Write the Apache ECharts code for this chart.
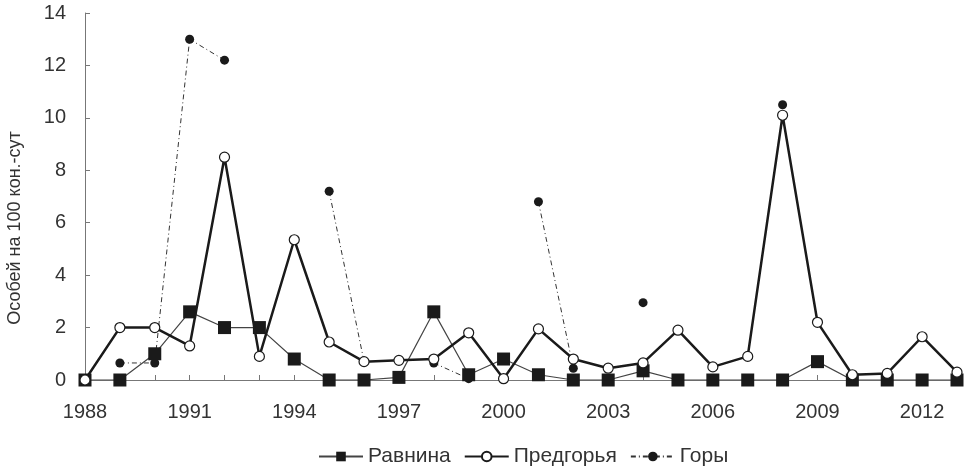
<!DOCTYPE html>
<html><head><meta charset="utf-8">
<script src="https://cdn.jsdelivr.net/npm/echarts@6/dist/echarts.min.js"></script>
<style>html,body{margin:0;padding:0;background:#fff}#c{width:965px;height:475px}</style>
</head><body><div id="c"></div>
<script>
const years = ['1988','1989','1990','1991','1992','1993','1994','1995','1996','1997','1998','1999','2000','2001','2002','2003','2004','2005','2006','2007','2008','2009','2010','2011','2012','2013'];
const ravnina = [0,0,1.0,2.6,2.0,2.0,0.8,0,0,0.1,2.6,0.2,0.8,0.2,0,0,0.35,0,0,0,0,0.7,0,0,0,0];
const predgorya = [0,2.0,2.0,1.3,8.5,0.9,5.35,1.45,0.7,0.75,0.8,1.8,0.05,1.95,0.8,0.45,0.65,1.9,0.5,0.9,10.1,2.2,0.2,0.25,1.65,0.3];
const gory = [null,0.65,0.65,13.0,12.2,null,null,7.2,0.7,null,0.65,0.05,null,6.8,0.45,null,2.95,null,null,null,10.5,null,null,null,null,null];
const yTicks = [0,2,4,6,8,10,12,14];
const yName = 'Особей на 100 кон.-сут';

const font = 'Liberation Sans, Arial, sans-serif';
const chart = echarts.init(document.getElementById('c'));
chart.setOption({
  animation: false,
  textStyle: {fontFamily: font},
  grid: {left: 85, right: 8, top: 13, bottom: 95, containLabel: false},
  legend: {
    bottom: 3, left: 313, itemWidth: 44, itemHeight: 12, itemGap: 13,
    textStyle: {fontSize: 21, color: '#333', fontFamily: font},
    data: ['Равнина','Предгорья','Горы']
  },
  graphic: [{
    type: 'text', x: 15, y: 228, rotation: Math.PI / 2,
    style: {text: yName, fontSize: 18, fill: '#333', fontFamily: font,
            align: 'center', verticalAlign: 'middle'}
  }],
  xAxis: {
    type: 'category', data: years, boundaryGap: false,
    axisLine: {lineStyle: {color: '#777', width: 1}},
    axisTick: {inside: true, interval: 0, length: 5, lineStyle: {color: '#777'}},
    axisLabel: {interval: 2, fontSize: 20, color: '#333', margin: 22, fontFamily: font}
  },
  yAxis: {
    type: 'value', min: yTicks[0], max: yTicks[yTicks.length-1], interval: 2,
    axisLine: {show: true, lineStyle: {color: '#777', width: 1}},
    axisTick: {show: true, inside: true, length: 5, lineStyle: {color: '#777'}},
    splitLine: {show: false},
    axisLabel: {fontSize: 20, color: '#333', margin: 19, fontFamily: font}
  },
  series: [
    {
      name: 'Горы', type: 'line', data: gory, connectNulls: false, z: 1,
      symbol: 'circle', symbolSize: 9,
      itemStyle: {color: '#1a1a1a', borderWidth: 0},
      lineStyle: {color: '#333', width: 1, type: [5,3,1,3]}
    },
    {
      name: 'Равнина', type: 'line', data: ravnina, z: 2,
      symbol: 'rect', symbolSize: 13,
      itemStyle: {color: '#1a1a1a', borderWidth: 0},
      lineStyle: {color: '#444', width: 1.2}
    },
    {
      name: 'Предгорья', type: 'line', data: predgorya, z: 3,
      symbol: 'circle', symbolSize: 10, showAllSymbol: true,
      itemStyle: {color: '#fff', borderColor: '#1a1a1a', borderWidth: 1.2},
      lineStyle: {color: '#1a1a1a', width: 2.5}
    }
  ]
});
</script></body></html>
